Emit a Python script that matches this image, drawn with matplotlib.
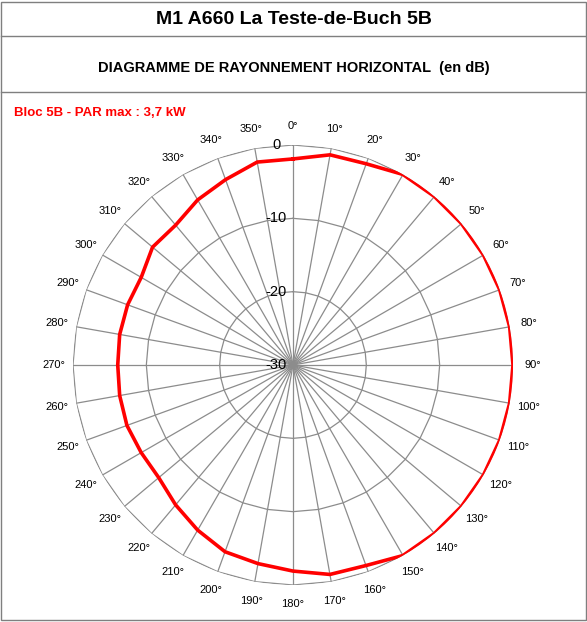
import numpy as np
import matplotlib
matplotlib.use("Agg")
import matplotlib.pyplot as plt

angles_deg = list(range(0, 360, 10))
gain_db = [-1.9, -0.9, -0.8, 0, 0, 0, 0, 0, 0, 0,
           0, 0, 0, 0, 0, 0, -0.9, -1.0, -1.9, -2.5,
           -2.9, -4.0, -5.1, -6.1, -6.1, -5.9, -6.0, -6.1, -6.0, -6.0,
           -6.1, -5.0, -5.1, -4.0, -3.1, -1.9]
ring_values = [-30, -20, -10, 0]
title = "M1 A660 La Teste-de-Buch 5B"
subtitle = "DIAGRAMME DE RAYONNEMENT HORIZONTAL  (en dB)"
bloc_label = "Bloc 5B - PAR max : 3,7 kW"

plt.rcParams['font.family'] = ['Liberation Sans', 'DejaVu Sans']
fig = plt.figure(figsize=(5.87, 6.22), dpi=100)

W, H = 587, 622
def fx(x): return x / W
def fy(y): return 1 - y / H
fig.add_artist(plt.Rectangle((fx(1), fy(620)), fx(585), 618/H, transform=fig.transFigure,
                             fill=False, ec='#7f7f7f', lw=1))
for yy in (36, 92):
    fig.add_artist(plt.Line2D([fx(1), fx(586)], [fy(yy), fy(yy)], transform=fig.transFigure,
                              color='#7f7f7f', lw=1))
fig.text(0.5, fy(19), title, ha='center', va='center', fontsize=14, fontweight='bold')
fig.text(0.5, fy(68), subtitle, ha='center', va='center', fontsize=10.5, fontweight='bold')
fig.text(fx(14), fy(113), bloc_label, ha='left', va='center', fontsize=9.5,
         fontweight='bold', color='#ff0000')

ax = fig.add_axes([fx(73), fy(585), 440/W, 440/H], projection='polar')
ax.set_theta_zero_location('N')
ax.set_theta_direction(-1)
ax.set_ylim(-30, 0)
ax.grid(False)
ax.set_xticks([])
ax.set_yticks([])
ax.spines['polar'].set_visible(False)
ax.patch.set_alpha(0)

th = np.deg2rad(angles_deg)
thc = np.append(th, th[0])
for rv in ring_values[1:]:
    ax.plot(thc, [rv] * len(thc), color='#8c8c8c', lw=0.9, zorder=1)
for t in th:
    ax.plot([t, t], [-30, 0], color='#8c8c8c', lw=0.9, zorder=1)

vals = np.append(gain_db, gain_db[0])
ax.plot(thc, vals, color='#ff0000', lw=2.6, zorder=3)

for a in angles_deg:
    ax.annotate(f"{a}°", xy=(np.deg2rad(a), 0), xytext=(14 * np.sin(np.deg2rad(a)), 14 * np.cos(np.deg2rad(a))),
                textcoords='offset points', ha='center', va='center', fontsize=8,
                annotation_clip=False)
for rv in ring_values:
    ax.annotate(f"{rv}", xy=(0, rv), xytext=(-12, 0), textcoords='offset points',
                ha='center', va='center', fontsize=10.5, annotation_clip=False, zorder=4)

fig.savefig('out.png', dpi=100)
